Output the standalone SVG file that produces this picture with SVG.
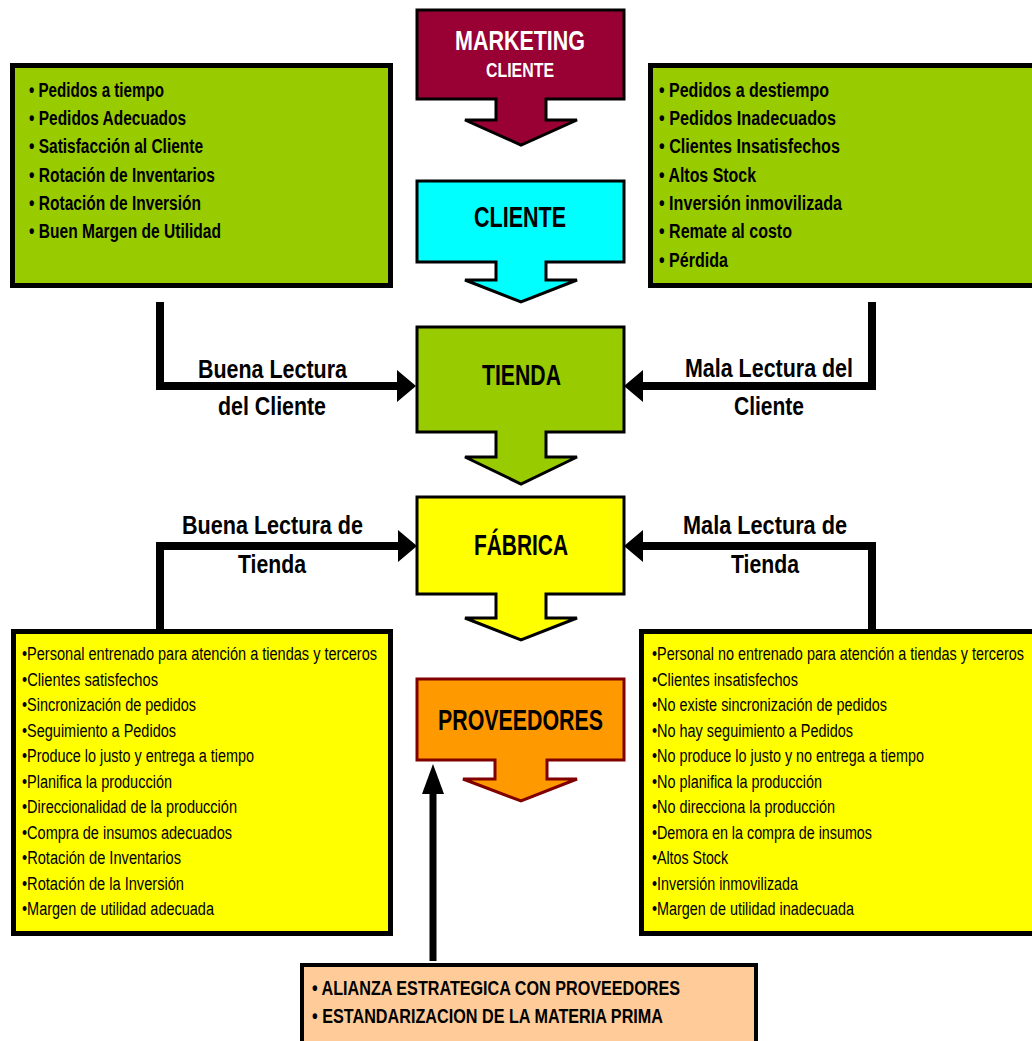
<svg xmlns="http://www.w3.org/2000/svg" width="1032" height="1041" viewBox="0 0 1032 1041">
<style>
  .t { font-family: "Liberation Sans", Arial, sans-serif; fill: #000; }
  .b { font-weight: bold; }
  .bx { stroke: #000; stroke-width: 5; }
  .ab { stroke: #000; stroke-width: 3; stroke-linejoin: miter; }
  .con { fill: none; stroke: #000; stroke-width: 8; stroke-linejoin: miter; }
  .lb { font-size: 19.5px; }
  .ls { font-size: 18px; }
  .lab { font-size: 25.5px; font-weight: bold; }
  .hd { font-size: 29px; font-weight: bold; }
</style>
<defs>
  <marker id="ah" markerUnits="userSpaceOnUse" markerWidth="19" markerHeight="32" refX="0" refY="16" orient="auto" overflow="visible">
    <path d="M0,0 L19,16 L0,32 Z" fill="#000"/>
  </marker>
  <marker id="ahu" markerUnits="userSpaceOnUse" markerWidth="30" markerHeight="22" refX="0" refY="11" orient="auto" overflow="visible">
    <path d="M0,0 L30,11 L0,22 Z" fill="#000"/>
  </marker>
</defs>
<rect width="1032" height="1041" fill="#fff"/>

<g id="connectors">
  <path class="con" d="M160,302 V386 H397" marker-end="url(#ah)"/>
  <path class="con" d="M872,302 V386 H643" marker-end="url(#ah)"/>
  <path class="con" d="M160,629 V546 H398" marker-end="url(#ah)"/>
  <path class="con" d="M872,629 V546 H643" marker-end="url(#ah)"/>
  <path class="con" style="stroke-width:7" d="M433,961 V794" marker-end="url(#ahu)"/>
  <g id="connector-labels" class="t">
    <text class="lab" x="198" y="378" textLength="149" lengthAdjust="spacingAndGlyphs">Buena Lectura</text>
    <text class="lab" x="218" y="415" textLength="108" lengthAdjust="spacingAndGlyphs">del Cliente</text>
    <text class="lab" x="685" y="377" textLength="168" lengthAdjust="spacingAndGlyphs">Mala Lectura del</text>
    <text class="lab" x="734" y="415" textLength="70" lengthAdjust="spacingAndGlyphs">Cliente</text>
    <text class="lab" x="182" y="534" textLength="181" lengthAdjust="spacingAndGlyphs">Buena Lectura de</text>
    <text class="lab" x="238" y="573" textLength="68" lengthAdjust="spacingAndGlyphs">Tienda</text>
    <text class="lab" x="683" y="534" textLength="164" lengthAdjust="spacingAndGlyphs">Mala Lectura de</text>
    <text class="lab" x="731" y="573" textLength="68" lengthAdjust="spacingAndGlyphs">Tienda</text>
  </g>
</g>

<g id="marketing">
  <polygon class="ab" fill="#990033" points="417,10 624,10 624,99 546,99 546,120 577,120 521,145 465,120 496,120 496,99 417,99"/>
  <text class="t b" x="455" y="50" font-size="28" style="fill:#fff" textLength="130" lengthAdjust="spacingAndGlyphs">MARKETING</text>
  <text class="t b" x="486" y="77" font-size="20" style="fill:#fff" textLength="68" lengthAdjust="spacingAndGlyphs">CLIENTE</text>
</g>

<g id="cliente">
  <polygon class="ab" fill="#00FFFF" points="417,181 624,181 624,262 546,262 546,280 577,280 521,302 465,280 496,280 496,262 417,262"/>
  <text class="t hd" x="474" y="227" textLength="92" lengthAdjust="spacingAndGlyphs">CLIENTE</text>
</g>

<g id="tienda">
  <polygon class="ab" fill="#99CC00" points="417,327 624,327 624,432 546,432 546,457 577,457 521,484 465,457 496,457 496,432 417,432"/>
  <text class="t hd" x="482" y="385" textLength="79" lengthAdjust="spacingAndGlyphs">TIENDA</text>
</g>

<g id="fabrica">
  <polygon class="ab" fill="#FFFF00" points="417,497 624,497 624,594 546,594 546,618 577,618 521,640 465,618 496,618 496,594 417,594"/>
  <text class="t hd" x="474" y="555" textLength="94" lengthAdjust="spacingAndGlyphs">FÁBRICA</text>
</g>

<g id="proveedores">
  <polygon fill="#FF9900" stroke="#800000" stroke-width="3" points="417,679 624,679 624,760 547,760 547,779 577,779 521,801 463,779 495,779 495,760 417,760"/>
  <text class="t hd" x="438" y="730" textLength="165" lengthAdjust="spacingAndGlyphs">PROVEEDORES</text>
</g>

<g id="buena-lectura-cliente">
  <rect class="bx" x="12.5" y="65.5" width="378" height="220" fill="#99CC00"/>
  <g class="t b lb">
    <text x="29" y="97" textLength="135" lengthAdjust="spacingAndGlyphs">• Pedidos a tiempo</text>
    <text x="29" y="125" textLength="157" lengthAdjust="spacingAndGlyphs">• Pedidos Adecuados</text>
    <text x="29" y="153" textLength="174" lengthAdjust="spacingAndGlyphs">• Satisfacción al Cliente</text>
    <text x="29" y="182" textLength="186" lengthAdjust="spacingAndGlyphs">• Rotación de Inventarios</text>
    <text x="29" y="210" textLength="172" lengthAdjust="spacingAndGlyphs">• Rotación de Inversión</text>
    <text x="29" y="238" textLength="192" lengthAdjust="spacingAndGlyphs">• Buen Margen de Utilidad</text>
  </g>
</g>

<g id="mala-lectura-cliente">
  <rect class="bx" x="650.5" y="65.5" width="400" height="220" fill="#99CC00"/>
  <g class="t b lb">
    <text x="659" y="97" textLength="170" lengthAdjust="spacingAndGlyphs">• Pedidos a destiempo</text>
    <text x="659" y="125" textLength="177" lengthAdjust="spacingAndGlyphs">• Pedidos Inadecuados</text>
    <text x="659" y="153" textLength="181" lengthAdjust="spacingAndGlyphs">• Clientes Insatisfechos</text>
    <text x="659" y="182" textLength="97" lengthAdjust="spacingAndGlyphs">• Altos Stock</text>
    <text x="659" y="210" textLength="183" lengthAdjust="spacingAndGlyphs">• Inversión inmovilizada</text>
    <text x="659" y="238" textLength="133" lengthAdjust="spacingAndGlyphs">• Remate al costo</text>
    <text x="659" y="267" textLength="69" lengthAdjust="spacingAndGlyphs">• Pérdida</text>
  </g>
</g>

<g id="buena-lectura-tienda">
  <rect class="bx" x="13.5" y="631.5" width="377" height="302" fill="#FFFF00"/>
  <g class="t ls">
    <text x="22" y="660" textLength="355" lengthAdjust="spacingAndGlyphs">•Personal entrenado para atención a tiendas y terceros</text>
    <text x="22" y="685.5" textLength="136" lengthAdjust="spacingAndGlyphs">•Clientes satisfechos</text>
    <text x="22" y="711" textLength="174" lengthAdjust="spacingAndGlyphs">•Sincronización de pedidos</text>
    <text x="22" y="736.5" textLength="154" lengthAdjust="spacingAndGlyphs">•Seguimiento a Pedidos</text>
    <text x="22" y="762" textLength="232" lengthAdjust="spacingAndGlyphs">•Produce lo justo y entrega a tiempo</text>
    <text x="22" y="787.5" textLength="150" lengthAdjust="spacingAndGlyphs">•Planifica la producción</text>
    <text x="22" y="813" textLength="215" lengthAdjust="spacingAndGlyphs">•Direccionalidad de la producción</text>
    <text x="22" y="838.5" textLength="210" lengthAdjust="spacingAndGlyphs">•Compra de insumos adecuados</text>
    <text x="22" y="864" textLength="159" lengthAdjust="spacingAndGlyphs">•Rotación de Inventarios</text>
    <text x="22" y="889.5" textLength="162" lengthAdjust="spacingAndGlyphs">•Rotación de la Inversión</text>
    <text x="22" y="915" textLength="192" lengthAdjust="spacingAndGlyphs">•Margen de utilidad adecuada</text>
  </g>
</g>

<g id="mala-lectura-tienda">
  <rect class="bx" x="641.5" y="631.5" width="400" height="302" fill="#FFFF00"/>
  <g class="t ls">
    <text transform="translate(652,660) scale(0.8,1)" x="0" y="0" textLength="465" lengthAdjust="spacingAndGlyphs">•Personal no entrenado para atención a tiendas y terceros</text>
    <text x="652" y="685.5" textLength="146" lengthAdjust="spacingAndGlyphs">•Clientes insatisfechos</text>
    <text x="652" y="711" textLength="235" lengthAdjust="spacingAndGlyphs">•No existe sincronización de pedidos</text>
    <text x="652" y="736.5" textLength="201" lengthAdjust="spacingAndGlyphs">•No hay seguimiento a Pedidos</text>
    <text x="652" y="762" textLength="272" lengthAdjust="spacingAndGlyphs">•No produce lo justo y no entrega a tiempo</text>
    <text x="652" y="787.5" textLength="170" lengthAdjust="spacingAndGlyphs">•No planifica la producción</text>
    <text x="652" y="813" textLength="183" lengthAdjust="spacingAndGlyphs">•No direcciona la producción</text>
    <text x="652" y="838.5" textLength="220" lengthAdjust="spacingAndGlyphs">•Demora en la compra de insumos</text>
    <text x="652" y="864" textLength="76" lengthAdjust="spacingAndGlyphs">•Altos Stock</text>
    <text x="652" y="889.5" textLength="146" lengthAdjust="spacingAndGlyphs">•Inversión inmovilizada</text>
    <text x="652" y="915" textLength="202" lengthAdjust="spacingAndGlyphs">•Margen de utilidad inadecuada</text>
  </g>
</g>

<g id="alianza">
  <rect x="302" y="965" width="454" height="90" fill="#FFCC99" stroke="#000" stroke-width="4"/>
  <g class="t b lb">
    <text x="312" y="995" textLength="368" lengthAdjust="spacingAndGlyphs">• ALIANZA ESTRATEGICA CON PROVEEDORES</text>
    <text x="312" y="1023" textLength="351" lengthAdjust="spacingAndGlyphs">• ESTANDARIZACION DE LA MATERIA PRIMA</text>
  </g>
</g>
</svg>
